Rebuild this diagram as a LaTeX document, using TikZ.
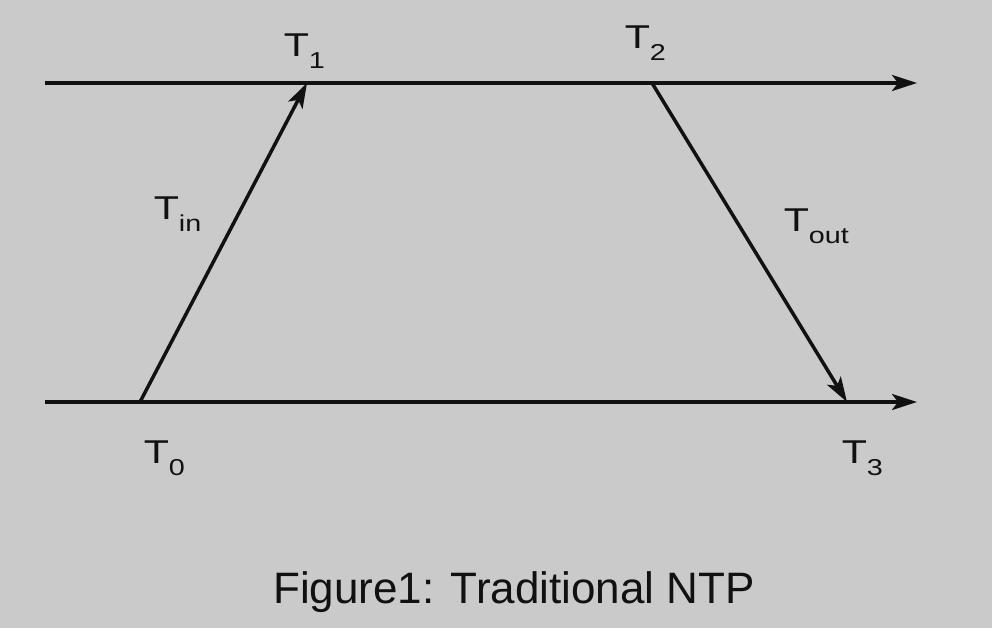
\documentclass[tikz,border=0pt]{standalone}
\usepackage{fontspec}
\setmainfont{Liberation Sans}
\usepackage{tikz}
\usetikzlibrary{arrows.meta}
\definecolor{paper}{RGB}{202,202,202}
\definecolor{ink}{RGB}{17,17,17}
\newcommand{\stamp}[2]{\scalebox{1.25}[1]{T\raisebox{-12pt}{\fontsize{23}{23}\selectfont #2}}}

\begin{document}
\begin{tikzpicture}[x=1pt,y=-1pt,line width=3.5pt,draw=ink]
	\tikzstyle{timeline}=[-{Stealth[length=25pt,width=16pt,inset=6pt]}]
	\tikzstyle{stamplabel}=[inner sep=0pt,anchor=base west,text=ink,font=\fontsize{33}{33}\selectfont]
	
	\fill[paper] (0,0) rectangle (992,628);
	
	\coordinate (a0) at (45,83);
	\coordinate (a1) at (917,83);
	\coordinate (b0) at (45,402);
	\coordinate (b1) at (917,402);
	\draw[timeline] (a0) -- (a1);
	\draw[timeline] (b0) -- (b1);
	
	\coordinate (t0) at (140,402);
	\coordinate (t1) at (307,83);
	\coordinate (t2) at (652,83);
	\coordinate (t3) at (847,402);
	\draw[timeline] (t0) -- (t1);
	\draw[timeline] (t2) -- (t3);
	
	\node[stamplabel](l1) at (282,57){\stamp{T}{1}};
	\node[stamplabel](l2) at (623,49){\stamp{T}{2}};
	\node[stamplabel](lin) at (152,220){\stamp{T}{in}};
	\node[stamplabel](lout) at (782,232){\stamp{T}{out}};
	\node[stamplabel](l0) at (142,463){\stamp{T}{0}};
	\node[stamplabel](l3) at (840,463){\stamp{T}{3}};
	
	\node[inner sep=0pt,anchor=base,text=ink,font=\fontsize{44}{44}\selectfont](cap) at (514,603){Figure1: Traditional NTP};
	
\end{tikzpicture}
\end{document}
